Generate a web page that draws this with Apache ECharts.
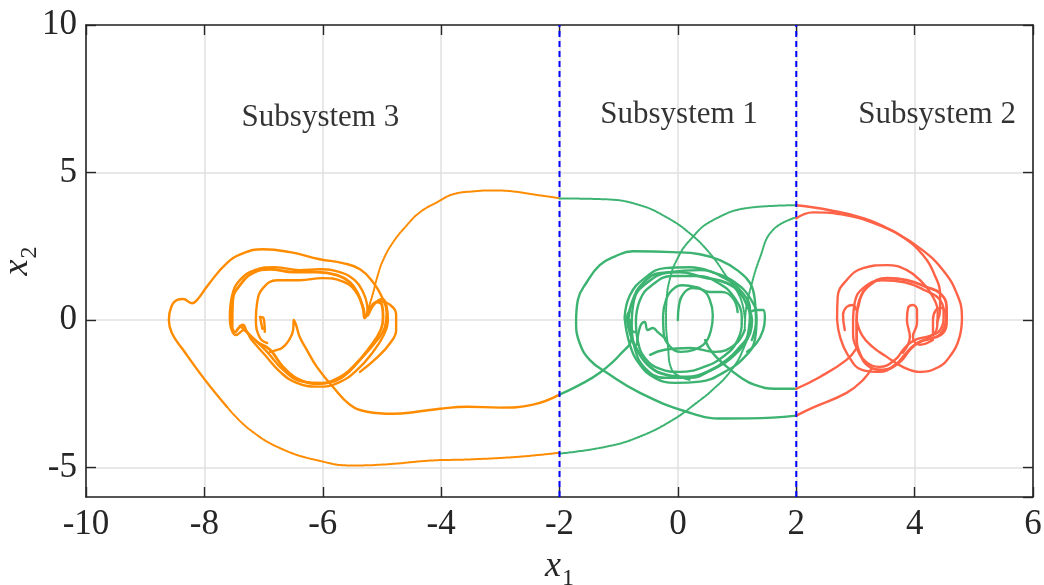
<!DOCTYPE html>
<html>
<head>
<meta charset="utf-8">
<script src="https://cdn.jsdelivr.net/npm/echarts@6/dist/echarts.min.js"></script>
<style>
  html, body { margin: 0; padding: 0; background: #fff; }
  #chart { width: 1044px; height: 585px; }
</style>
</head>
<body>
<div id="chart"></div>
<script>
// Axis ranges and switching surfaces of the piecewise system
const xRange = [-10, 6];
const yRange = [-6, 10];
const switchLines = [-2, 2];

// Region names and where they sit (data coordinates)
const regionNames = ['Subsystem 3', 'Subsystem 1', 'Subsystem 2'];
const regionAnchors = [[-6.04, 6.86], [0.02, 6.96], [4.38, 6.96]];

// ---- Subsystem 3 (x1 < -2) ----
const sub3BottomArc = [[-2.0,-4.50],[-2.72,-4.64],[-3.57,-4.73],[-4.14,-4.76],[-4.98,-4.90],[-5.54,-4.93],[-6.00,-4.80],[-6.67,-4.39],[-7.23,-3.72],[-7.62,-2.94]];
const sub3LeftLobe = [[-7.62,-2.94],[-7.99,-2.03],[-8.36,-1.01],[-8.55,-0.44],[-8.60,0],[-8.56,0.44],[-8.46,0.68],[-8.36,0.71],[-8.21,0.57],[-8.11,0.71],[-7.94,1.18],[-7.62,1.93],[-7.35,2.26],[-7.01,2.40],[-6.55,2.30],[-6.05,2.06],[-5.66,1.93],[-5.37,1.72],[-5.15,1.28],[-5.00,0.78],[-4.92,0.24],[-4.95,-0.24],[-5.08,-0.68],[-5.37,-1.35],[-5.66,-1.93],[-6.00,-2.13],[-6.33,-2.09],[-6.67,-1.69],[-6.94,-1.08],[-7.23,-0.51],[-7.40,-0.20]];
const sub3LowerReturn = [[-2.0,-2.53],[-2.45,-2.87],[-3.01,-2.97],[-3.56,-2.94],[-4.02,-3.01],[-4.41,-3.11],[-4.81,-3.18],[-5.25,-3.11],[-5.54,-2.87],[-5.83,-2.26],[-6.10,-1.59],[-6.27,-1.01],[-6.39,-0.57],[-6.45,-0.17],[-6.49,0],[-6.50,-0.34],[-6.59,-0.74],[-6.69,-0.95],[-6.77,-1.01],[-6.89,-1.08]];
const sub3TopArc = [[-2.0,4.13],[-2.45,4.26],[-2.79,4.36],[-3.13,4.39],[-3.46,4.36],[-3.80,4.26],[-4.07,3.99],[-4.36,3.65],[-4.58,3.21],[-4.81,2.64],[-4.98,2.03],[-5.08,1.45],[-5.15,0.91],[-5.22,0.44],[-5.27,0.10]];
const sub3LoopA = [[-7.53,0],[-7.52,0.68],[-7.40,1.18],[-7.18,1.59],[-6.89,1.72],[-6.50,1.62],[-6.10,1.62],[-5.76,1.52],[-5.54,1.28],[-5.41,0.91],[-5.32,0.41],[-5.29,0.07],[-5.20,0.41],[-5.08,0.61],[-5.00,0.51],[-4.98,0.10],[-5.02,-0.34],[-5.20,-0.91],[-5.49,-1.59],[-5.76,-1.99],[-6.05,-2.16],[-6.39,-2.03],[-6.67,-1.59],[-6.89,-1.01],[-7.11,-0.74],[-7.28,-0.41],[-7.35,-0.17],[-7.42,-0.27],[-7.48,-0.41],[-7.53,-0.24],[-7.53,0]];
const sub3LoopB = [[-7.57,0.07],[-7.53,0.84],[-7.40,1.35],[-7.15,1.69],[-6.81,1.79],[-6.39,1.69],[-6.05,1.72],[-5.71,1.62],[-5.46,1.35],[-5.32,0.95],[-5.25,0.51],[-5.24,0.14],[-5.14,0.51],[-5.00,0.71],[-4.92,0.47],[-4.90,0],[-4.97,-0.51],[-5.15,-1.08],[-5.42,-1.69],[-5.74,-2.13],[-6.08,-2.26],[-6.44,-2.13],[-6.72,-1.76],[-6.98,-1.18],[-7.20,-0.68],[-7.33,-0.34],[-7.47,-0.51],[-7.55,-0.27],[-7.57,0.07]];
const sub3Inner = [[-6.94,-0.78],[-7.06,-0.61],[-7.13,0],[-7.11,0.57],[-7.01,1.08],[-6.77,1.35],[-6.39,1.35],[-6.00,1.42],[-5.68,1.32],[-5.46,1.01],[-5.32,0.44],[-5.29,0.07]];
const sub3RightStrand = [[-5.03,0.64],[-4.86,0.51],[-4.76,0.17],[-4.76,-0.34],[-4.86,-0.78],[-5.07,-1.25],[-5.37,-1.76]];
const sub3Kink = [[-7.02,-0.30],[-7.06,0.10],[-7.00,0.06],[-6.98,-0.40]];

// ---- Subsystem 1 (|x1| < 2) ----
const sub1LoopA = [[-0.84,0],[-0.76,0.68],[-0.59,1.25],[-0.30,1.59],[0.03,1.62],[0.42,1.45],[0.83,1.25],[1.05,0.91],[1.18,0.44],[1.25,0],[1.22,-0.44],[1.05,-0.91],[0.83,-1.35],[0.49,-1.76],[0.15,-1.93],[-0.19,-1.86],[-0.47,-1.59],[-0.69,-1.01],[-0.81,-0.44],[-0.84,0]];
const sub1LoopB = [[-0.90,0.07],[-0.81,0.84],[-0.56,1.42],[-0.22,1.76],[0.20,1.79],[0.63,1.59],[0.96,1.28],[1.22,0.74],[1.33,0.07],[1.30,-0.68],[1.13,-1.25],[0.79,-1.76],[0.37,-2.09],[-0.05,-2.13],[-0.39,-1.96],[-0.64,-1.52],[-0.81,-0.84],[-0.90,0.07]];
const sub1LoopC = [[-0.71,-0.07],[-0.64,0.68],[-0.44,1.18],[-0.10,1.49],[0.34,1.49],[0.71,1.22],[0.96,0.74],[1.08,0.07],[1.01,-0.68],[0.78,-1.22],[0.44,-1.59],[0.03,-1.76],[-0.30,-1.66],[-0.56,-1.28],[-0.68,-0.68],[-0.71,-0.07]];
const sub1LoopD = [[-0.78,-0.17],[-0.74,0.68],[-0.51,1.28],[-0.14,1.62],[0.37,1.69],[0.79,1.42],[1.08,0.95],[1.22,0.34],[1.18,-0.51],[0.96,-1.18],[0.57,-1.69],[0.20,-1.96],[-0.22,-1.96],[-0.56,-1.62],[-0.73,-0.95],[-0.78,-0.17]];
const sub1LowerInner = [[-0.47,-1.18],[-0.22,-1.01],[0.20,-0.95],[0.63,-1.08],[0.96,-0.84],[1.13,-0.34]];
const sub1Spiral = [[0,0],[0.02,0.51],[0.10,0.91],[0.25,1.08],[0.42,1.01],[0.54,0.68],[0.59,0.17],[0.56,-0.34],[0.46,-0.78],[0.27,-1.01],[0.05,-1.08],[-0.14,-0.88],[-0.24,-0.44],[-0.25,0.14],[-0.20,0.68],[-0.10,1.01],[0.08,1.18],[0.32,1.11],[0.54,0.95],[0.74,0.95],[0.93,0.74],[1.01,0.27]];
const sub1Wiggle = [[-0.69,-0.84],[-0.64,-0.24],[-0.56,-0.07],[-0.51,-0.34],[-0.42,-0.27],[-0.34,-0.41],[-0.22,-0.61]];
const sub1LeftLobe = [[-0.81,0.34],[-0.86,0.07],[-0.83,-0.27],[-0.73,-0.41]];
const sub1RightLobe = [[1.22,0.27],[1.33,0.34],[1.44,0.34],[1.47,0.07],[1.44,-0.34],[1.33,-0.78],[1.17,-1.08]];
const sub1EntryLeft = [[-2.0,-2.53],[-1.66,-2.20],[-1.32,-1.79],[-0.98,-1.18],[-0.78,-0.57],[-0.81,0]];
const sub1BigLoop = [[2.0,-3.24],[1.60,-3.31],[0.76,-3.34],[0.15,-3.11],[-0.64,-2.47],[-1.20,-1.79],[-1.49,-1.35],[-1.66,-0.78],[-1.72,-0.07],[-1.69,0.68],[-1.54,1.28],[-1.32,1.86],[-1.06,2.16],[-0.76,2.33],[-0.08,2.30],[0.37,2.23],[0.71,2.03],[1.00,1.69],[1.22,1.25],[1.30,0.68],[1.32,0],[1.25,-0.68]];
const sub1EntryRight = [[2.0,-2.33],[1.64,-2.33],[1.30,-2.20],[1.05,-1.93],[0.79,-1.52],[0.57,-1.08],[0.46,-0.68]];
const sub1ArcBottom = [[-2.0,-4.53],[-1.20,-4.29],[-0.64,-3.95],[-0.08,-3.38],[0.32,-2.80],[0.59,-2.36],[0.88,-1.76],[1.10,-1.01],[1.22,-0.10],[1.18,0.68]];
const sub1ArcTopLeft = [[-2.0,4.12],[-1.20,4.09],[-0.64,3.89],[-0.19,3.48],[0.20,2.94],[0.54,2.26],[0.83,1.45],[1.05,0.78],[1.13,0.07]];
const sub1ArcTopRight = [[2.0,3.89],[1.27,3.82],[0.59,3.38],[0.20,2.70],[-0.02,2.03],[-0.14,1.35],[-0.19,0.68],[-0.20,0],[-0.17,-0.84],[-0.10,-1.69],[0.20,-2.03]];
const sub1ArcTopRight2 = [[2.0,3.48],[1.60,3.04],[1.39,2.13],[1.22,1.01],[1.15,0.34],[1.13,-0.34]];

// ---- Subsystem 2 (x1 > 2) ----
const sub2OuterArc = [[2.0,3.89],[2.57,3.72],[3.13,3.45],[3.70,2.94],[4.14,2.36],[4.48,1.69],[4.71,0.91],[4.80,0.10],[4.76,-0.57],[4.59,-1.25],[4.38,-1.62],[4.09,-1.76],[3.80,-1.59],[3.53,-1.25],[3.29,-0.91],[3.11,-0.51],[3.02,0]];
const sub2InnerArc = [[2.0,3.45],[2.28,3.65],[2.85,3.55],[3.41,3.21],[3.83,2.77],[4.14,2.20],[4.34,1.52],[4.43,0.84],[4.43,0.34],[4.38,-0.07]];
const sub2LoopA = [[3.02,0],[3.07,0.68],[3.24,1.18],[3.53,1.42],[3.87,1.35],[4.21,1.11],[4.43,0.91],[4.54,0.44],[4.54,0],[4.48,-0.44],[4.31,-0.61],[4.09,-0.74],[3.92,-1.01],[3.75,-1.42],[3.46,-1.69],[3.24,-1.59],[3.07,-1.11],[3.02,-0.57],[3.02,0]];
const sub2LoopB = [[2.69,0],[2.70,0.78],[2.85,1.35],[3.13,1.76],[3.53,1.86],[3.87,1.69],[4.14,1.25],[4.31,0.78],[4.39,0.27],[4.38,-0.24],[4.26,-0.57],[4.00,-0.84],[3.83,-1.18],[3.67,-1.52],[3.41,-1.76],[3.11,-1.69],[2.87,-1.18],[2.74,-0.57],[2.69,0]];
const sub2LoopC = [[2.96,-0.07],[2.99,0.61],[3.13,1.08],[3.45,1.35],[3.83,1.28],[4.17,1.01],[4.43,0.68],[4.49,0.17],[4.43,-0.34],[4.26,-0.54],[4.00,-0.68],[3.83,-0.95],[3.67,-1.35],[3.41,-1.59],[3.18,-1.42],[3.02,-0.95],[2.96,-0.44],[2.96,-0.07]];
const sub2LeftKink = [[2.82,-0.34],[2.79,0.17],[2.85,0.44],[2.96,0.51],[3.02,0.34],[3.07,0.68]];
const sub2MidLoop = [[3.80,-1.11],[3.92,-0.57],[3.87,0],[3.89,0.41],[3.97,0.51],[4.04,0.34],[4.04,-0.10],[3.97,-0.57],[4.09,-0.84],[4.31,-0.68]];
const sub2RightLoop = [[4.31,-0.51],[4.31,0],[4.36,0.34],[4.46,0.41],[4.53,0.07],[4.48,-0.34],[4.38,-0.57]];
const sub2EntryLow1 = [[2.0,-2.33],[2.40,-1.93],[2.85,-1.35],[3.02,-0.95]];
const sub2EntryLow2 = [[2.0,-3.24],[2.28,-2.97],[2.85,-2.47],[3.13,-2.03],[3.28,-1.62]];

const ORANGE = '#FF8C00';
const GREEN = '#3CB371';
const RED = '#FF6347';

function path(data, color, opts) {
  opts = opts || {};
  return {
    type: 'line',
    data: data,
    smooth: opts.smooth == null ? 0.45 : opts.smooth,
    showSymbol: false,
    silent: true,
    z: 3,
    lineStyle: {
      color: color,
      width: opts.width || 2.4,
      type: opts.dotted ? [2, 1.2] : 'solid',
      cap: 'round',
      join: 'round'
    }
  };
}

const series = [
  path(sub3BottomArc, ORANGE, { dotted: true, width: 2 }),
  path(sub3TopArc, ORANGE, { dotted: true, width: 2 }),
  path(sub3LeftLobe, ORANGE),
  path(sub3LowerReturn, ORANGE),
  path(sub3LoopA, ORANGE, { width: 2.8 }),
  path(sub3LoopB, ORANGE),
  path(sub3Inner, ORANGE),
  path(sub3RightStrand, ORANGE),
  path(sub3Kink, ORANGE),

  path(sub1ArcBottom, GREEN, { dotted: true, width: 2 }),
  path(sub1ArcTopLeft, GREEN, { dotted: true, width: 2 }),
  path(sub1ArcTopRight, GREEN, { dotted: true, width: 2 }),
  path(sub1ArcTopRight2, GREEN, { dotted: true, width: 2 }),
  path(sub1EntryLeft, GREEN),
  path(sub1BigLoop, GREEN),
  path(sub1EntryRight, GREEN),
  path(sub1LoopA, GREEN, { width: 2.8 }),
  path(sub1LoopB, GREEN),
  path(sub1LoopC, GREEN),
  path(sub1LoopD, GREEN),
  path(sub1LowerInner, GREEN),
  path(sub1Spiral, GREEN),
  path(sub1Wiggle, GREEN),
  path(sub1LeftLobe, GREEN),
  path(sub1RightLobe, GREEN),

  path(sub2OuterArc, RED),
  path(sub2InnerArc, RED),
  path(sub2LoopA, RED, { width: 2.8 }),
  path(sub2LoopB, RED),
  path(sub2LoopC, RED),
  path(sub2LeftKink, RED),
  path(sub2MidLoop, RED),
  path(sub2RightLoop, RED),
  path(sub2EntryLow1, RED),
  path(sub2EntryLow2, RED)
];

// Switching surfaces x1 = -2 and x1 = 2
switchLines.forEach(function (xv) {
  series.push({
    type: 'line',
    data: [[xv, yRange[0]], [xv, yRange[1]]],
    showSymbol: false,
    silent: true,
    z: 5,
    lineStyle: { color: '#0000FF', width: 2, type: [6, 4] }
  });
});

// Region names
series.push({
  type: 'scatter',
  data: regionNames.map(function (n, i) { return [regionAnchors[i][0], regionAnchors[i][1], n]; }),
  symbolSize: 0,
  silent: true,
  z: 6,
  label: {
    show: true,
    position: 'inside',
    formatter: function (p) { return p.value[2]; },
    fontFamily: 'Liberation Serif',
    fontSize: 31,
    color: '#000'
  }
});

const axisColor = '#262626';
const tickFont = { fontFamily: 'Liberation Serif', fontSize: 35, color: '#262626' };
const nameRich = {
  v: { fontFamily: 'Liberation Serif', fontStyle: 'italic', fontSize: 36, color: '#262626', verticalAlign: 'top' },
  s: { fontFamily: 'Liberation Serif', fontSize: 24, color: '#262626', verticalAlign: 'top', padding: [18, 0, 0, 1] }
};

const option = {
  animation: false,
  backgroundColor: '#ffffff',
  grid: { left: 86, right: 11, top: 25, bottom: 88, containLabel: false, outerBoundsMode: 'none' },
  xAxis: [{
    type: 'value',
    min: xRange[0], max: xRange[1], interval: 2,
    name: '{v|x}{s|1}',
    nameLocation: 'middle',
    nameGap: 52,
    nameTextStyle: { rich: nameRich },
    axisLine: { show: true, onZero: false, lineStyle: { color: axisColor, width: 1.6 } },
    axisTick: { show: true, inside: true, length: 10, lineStyle: { color: axisColor, width: 1.4 } },
    axisLabel: Object.assign({ margin: 10 }, tickFont),
    splitLine: { show: true, lineStyle: { color: '#E0E0E0', width: 1.5 } }
  }, {
    type: 'value', position: 'top',
    min: xRange[0], max: xRange[1], interval: 2,
    axisLine: { show: true, onZero: false, lineStyle: { color: axisColor, width: 1.6 } },
    axisTick: { show: true, inside: true, length: 10, lineStyle: { color: axisColor, width: 1.4 } },
    axisLabel: { show: false },
    splitLine: { show: false }
  }],
  yAxis: [{
    type: 'value',
    min: yRange[0], max: yRange[1], splitNumber: 3,
    name: '{v|x}{s|2}',
    nameLocation: 'middle',
    nameGap: 44,
    nameMoveOverlap: false,
    nameRotate: 90,
    nameTextStyle: { rich: nameRich },
    axisLine: { show: true, onZero: false, lineStyle: { color: axisColor, width: 1.6 } },
    axisTick: { show: true, inside: true, length: 10, lineStyle: { color: axisColor, width: 1.4 } },
    axisLabel: Object.assign({ margin: 9, showMinLabel: false }, tickFont),
    splitLine: { show: true, lineStyle: { color: '#E0E0E0', width: 1.5 } }
  }, {
    type: 'value', position: 'right',
    min: yRange[0], max: yRange[1], splitNumber: 3,
    axisLine: { show: true, onZero: false, lineStyle: { color: axisColor, width: 1.6 } },
    axisTick: { show: true, inside: true, length: 10, lineStyle: { color: axisColor, width: 1.4 } },
    axisLabel: { show: false },
    splitLine: { show: false }
  }],
  series: series
};

const chart = echarts.init(document.getElementById('chart'), null, { renderer: 'canvas' });
chart.setOption(option);
</script>
</body>
</html>
